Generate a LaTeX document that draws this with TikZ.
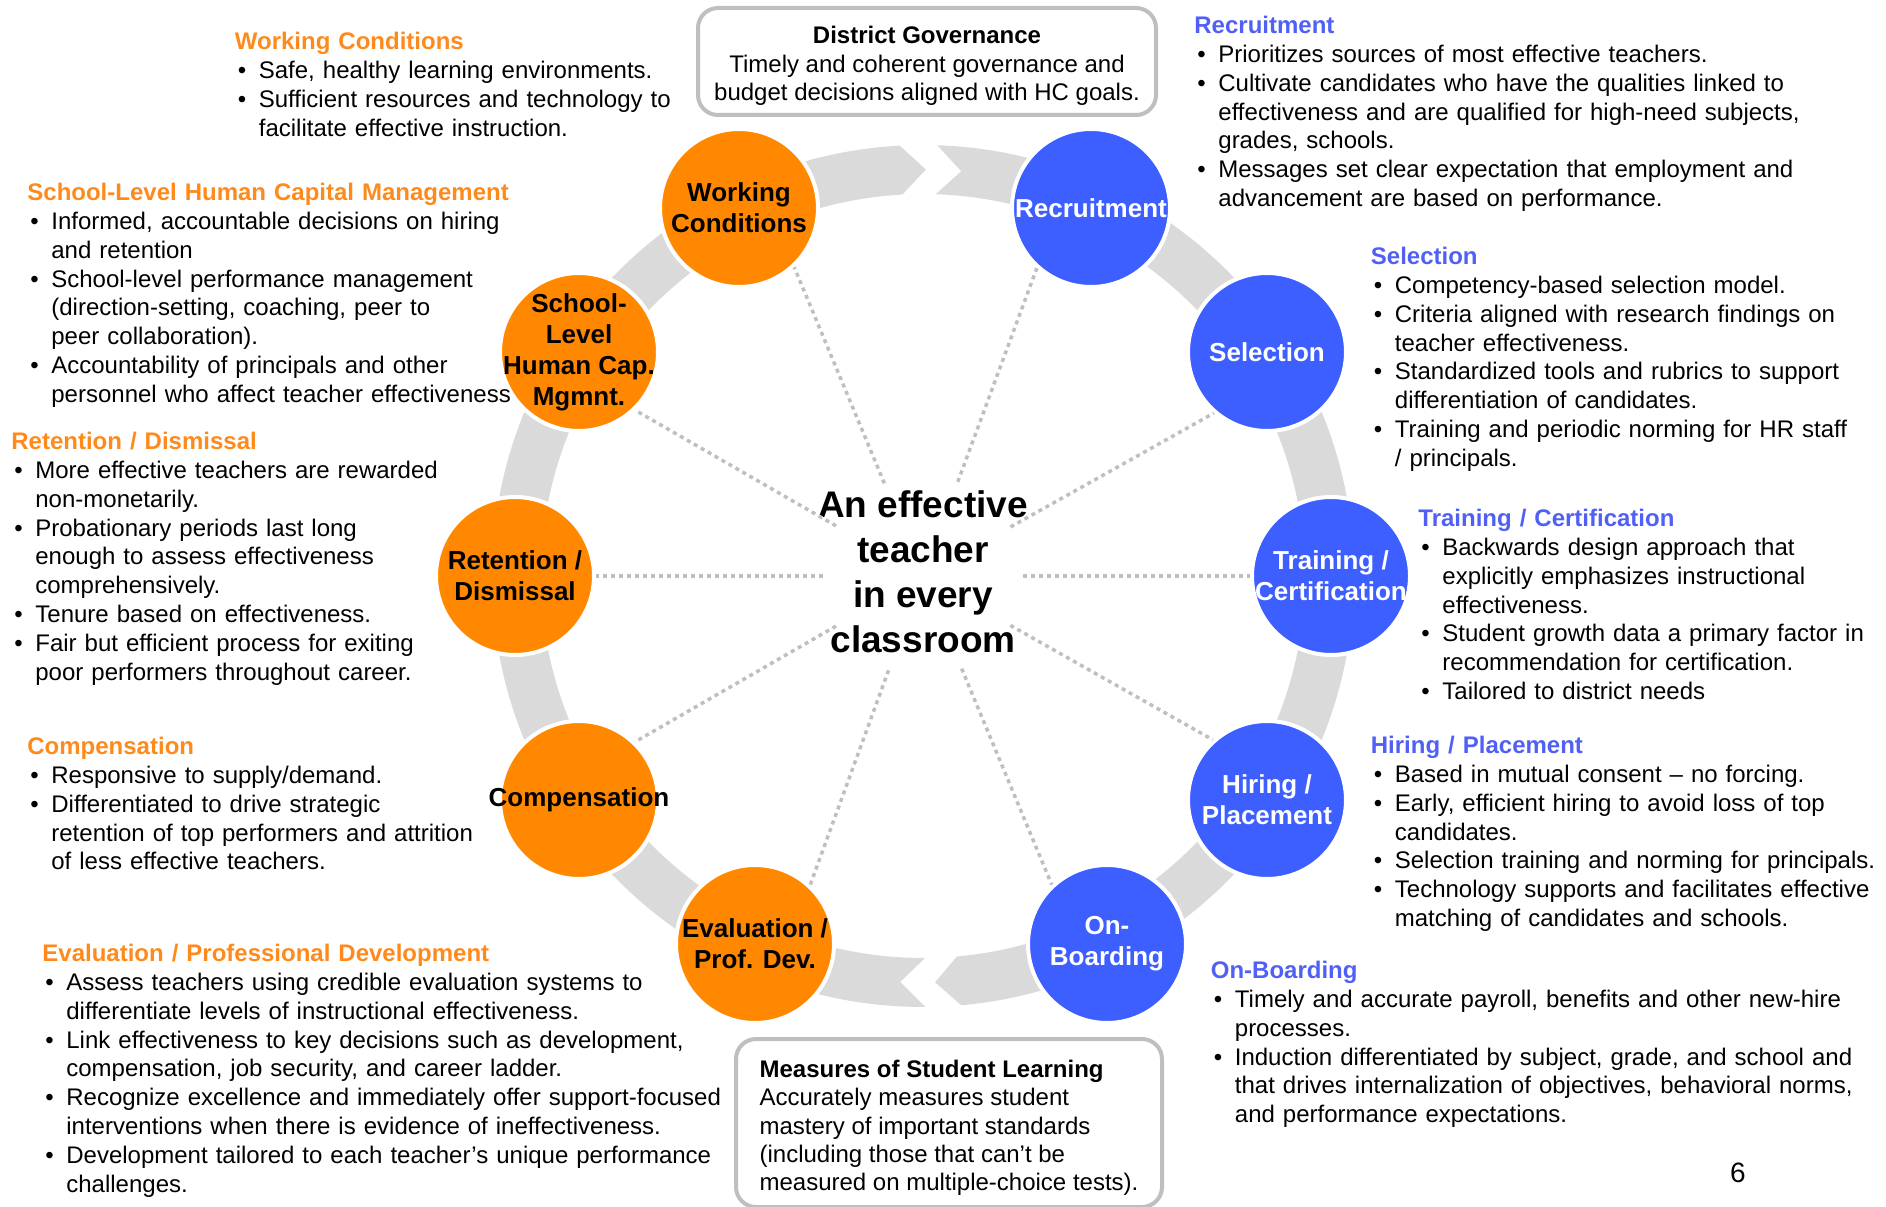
\documentclass[tikz,border=0pt]{standalone}
\usepackage{fontspec}
\setmainfont{Liberation Sans}
\usepackage{xcolor}
\usepackage{tikz}
\usetikzlibrary{positioning, calc}
\definecolor{ringorange}{HTML}{FF8800}
\definecolor{ringblue}{HTML}{3D5FFF}
\definecolor{headorange}{HTML}{FF8A1C}
\definecolor{headblue}{HTML}{5060F5}
\definecolor{bandgrey}{HTML}{DADADA}
\definecolor{linegrey}{HTML}{BFBFBF}

\newcommand{\hd}[2]{\noindent{\color{#1}\bfseries #2}}
\newcommand{\bitem}{\par\hangindent=12pt\hangafter=1\noindent\makebox[12pt][l]{\hspace{1.5pt}\textbullet}}

\tikzset{
	stage/.style={circle, minimum size=79pt, inner sep=0pt, draw=white, line width=2pt},
	warm/.style={stage, fill=ringorange},
	cool/.style={stage, fill=ringblue},
	tag/.style={align=center, inner sep=0pt, font=\bfseries\fontsize{13}{15.5}\selectfont},
	darktag/.style={tag, text=black},
	lighttag/.style={tag, text=white},
	note/.style={anchor=north west, inner sep=0pt, text width=360pt, align=left, font=\fontsize{12}{14.4}\selectfont},
	frame/.style={draw=linegrey, line width=2pt, rounded corners=10pt, fill=white, font=\fontsize{12}{14.25}\selectfont},
	spoke/.style={draw=linegrey, line width=1.75pt, dash pattern=on 2pt off 2pt},
	hubring/.style={circle, minimum size=100pt, inner sep=0pt},
	motto/.style={align=center, inner sep=0pt, font=\bfseries\fontsize{18.5}{22.5}\selectfont}
}

\begin{document}
\begin{tikzpicture}[x=0.5pt, y=0.5pt]
						\useasboundingbox (0,0) rectangle (1886,1206);
						\def\rout{215.5pt}
						\def\rin{191pt}
						\def\rmid{203.25pt}
						\begin{scope}[shift={(923,630)}]
						\fill[bandgrey] (270.3:\rout) arc[start angle=270.3, end angle=93.1, radius=\rout] -- (89.6:\rmid) -- (93.1:\rin) arc[start angle=93.1, end angle=270.3, radius=\rin] -- (266.8:\rmid) -- cycle;
						\fill[bandgrey] (88.1:\rout) arc[start angle=88.1, end angle=-84.9, radius=\rout] -- (-88.3:\rmid) -- (-84.9:\rin) arc[start angle=-84.9, end angle=88.1, radius=\rin] -- (84.6:\rmid) -- cycle;
						\end{scope}
						
						\node[hubring] (hub) at (923,630) {};
						\node[motto] (centre) at (923,634) {An effective\\teacher\\in every\\classroom};
						
						\node[warm] (wc) at (739,998) {};
						\node[warm] (school) at (579,854) {};
						\node[warm] (ret) at (515,630) {};
						\node[warm] (comp) at (579,406) {};
						\node[warm] (eval) at (755,262) {};
						\node[cool] (rec) at (1091,998) {};
						\node[cool] (sel) at (1267,854) {};
						\node[cool] (train) at (1331,630) {};
						\node[cool] (hire) at (1267,406) {};
						\node[cool] (onb) at (1107,262) {};
						
						\foreach \n/\a in {wc/-47, rec/-132, school/-46, sel/-131, ret/0, train/180, comp/46, hire/132, eval/47, onb/133}
							\draw[spoke] (hub) -- (\n.\a);
						
						\node[darktag] (wct) at (wc) {Working\\Conditions};
						\node[darktag] (schoolt) at (school) {School-\\Level\\Human Cap.\\Mgmnt.};
						\node[darktag] (rett) at (ret) {Retention /\\Dismissal};
						\node[darktag] (compt) at (comp) {Compensation};
						\node[darktag] (evalt) at (eval) {Evaluation /\\Prof. Dev.};
						\node[lighttag] (rect) at (rec) {Recruitment};
						\node[lighttag] (selt) at (sel) {Selection};
						\node[lighttag] (traint) at (train) {Training /\\Certification};
						\node[lighttag] (hiret) at (hire) {Hiring /\\Placement};
						\node[lighttag] (onbt) at (onb) {On-\\Boarding};
						
						\node[frame, align=center, minimum width=229pt, minimum height=53.5pt] (gov) at (927,1144.5) {\rule{0pt}{13.3pt}\textbf{District Governance}\\Timely and coherent governance and\\budget decisions aligned with HC goals.};
						\node[frame, align=left, minimum width=213pt, minimum height=84pt, anchor=north west, font=\fontsize{12}{14.1}\selectfont] (msl) at (734,169) {\rule{0pt}{13.5pt}\textbf{Measures of Student Learning}\\Accurately measures student\\mastery of important standards\\(including those that can’t be\\measured on multiple-choice tests).};
						
						\node[note] (wcnote) at (234.5,1174) {\hd{headorange}{Working Conditions}
							\bitem Safe, healthy learning environments.
							\bitem Sufficient resources and technology to\newline facilitate effective instruction.\par};
						\node[note] (schoolnote) at (27,1023) {\hd{headorange}{School-Level Human Capital Management}
							\bitem Informed, accountable decisions on hiring\newline and retention
							\bitem School-level performance management\newline (direction-setting, coaching, peer to\newline peer collaboration).
							\bitem Accountability of principals and other\newline personnel who affect teacher effectiveness\par};
						\node[note] (retnote) at (11,774) {\hd{headorange}{Retention / Dismissal}
							\bitem More effective teachers are rewarded\newline non-monetarily.
							\bitem Probationary periods last long\newline enough to assess effectiveness\newline comprehensively.
							\bitem Tenure based on effectiveness.
							\bitem Fair but efficient process for exiting\newline poor performers throughout career.\par};
						\node[note] (compnote) at (27,469) {\hd{headorange}{Compensation}
							\bitem Responsive to supply/demand.
							\bitem Differentiated to drive strategic\newline retention of top performers and attrition\newline of less effective teachers.\par};
						\node[note] (evalnote) at (42,262) {\hd{headorange}{Evaluation / Professional Development}
							\bitem Assess teachers using credible evaluation systems to\newline differentiate levels of instructional effectiveness.
							\bitem Link effectiveness to key decisions such as development,\newline compensation, job security, and career ladder.
							\bitem Recognize excellence and immediately offer support-focused\newline interventions when there is evidence of ineffectiveness.
							\bitem Development tailored to each teacher’s unique performance\newline challenges.\par};
						\node[note] (recnote) at (1194,1190) {\hd{headblue}{Recruitment}
							\bitem Prioritizes sources of most effective teachers.
							\bitem Cultivate candidates who have the qualities linked to\newline effectiveness and are qualified for high-need subjects,\newline grades, schools.
							\bitem Messages set clear expectation that employment and\newline advancement are based on performance.\par};
						\node[note] (selnote) at (1370.5,959) {\hd{headblue}{Selection}
							\bitem Competency-based selection model.
							\bitem Criteria aligned with research findings on\newline teacher effectiveness.
							\bitem Standardized tools and rubrics to support\newline differentiation of candidates.
							\bitem Training and periodic norming for HR staff\newline / principals.\par};
						\node[note] (trainnote) at (1418,697) {\hd{headblue}{Training / Certification}
							\bitem Backwards design approach that\newline explicitly emphasizes instructional\newline effectiveness.
							\bitem Student growth data a primary factor in\newline recommendation for certification.
							\bitem Tailored to district needs\par};
						\node[note] (hirenote) at (1370.5,470) {\hd{headblue}{Hiring / Placement}
							\bitem Based in mutual consent -- no forcing.
							\bitem Early, efficient hiring to avoid loss of top\newline candidates.
							\bitem Selection training and norming for principals.
							\bitem Technology supports and facilitates effective\newline matching of candidates and schools.\par};
						\node[note] (onbnote) at (1210.5,245) {\hd{headblue}{On-Boarding}
							\bitem Timely and accurate payroll, benefits and other new-hire\newline processes.
							\bitem Induction differentiated by subject, grade, and school and\newline that drives internalization of objectives, behavioral norms,\newline and performance expectations.\par};
						
						\node[font=\fontsize{14}{14}\selectfont] (page) at (1738,33) {6};
\end{tikzpicture}
\end{document}
